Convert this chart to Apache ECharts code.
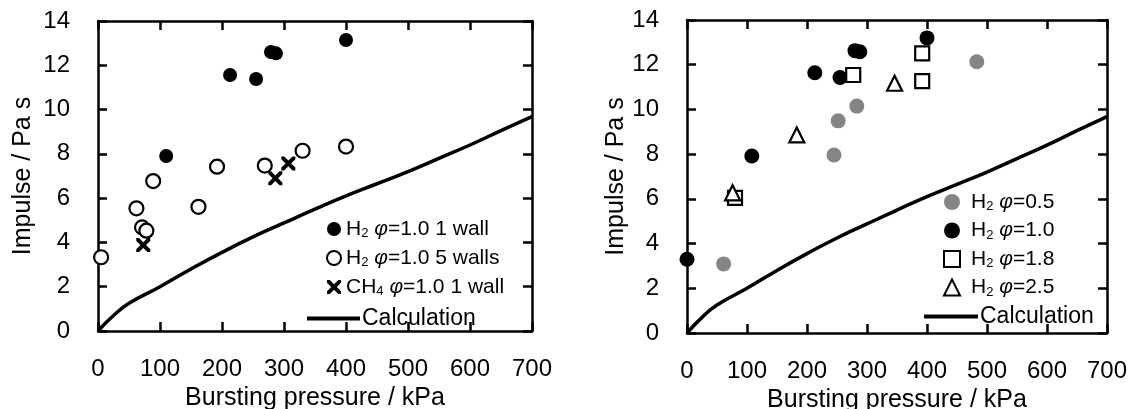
<!DOCTYPE html>
<html>
<head>
<meta charset="utf-8">
<script src="https://cdn.jsdelivr.net/npm/echarts@6/dist/echarts.min.js"></script>
<style>
  html, body { margin: 0; padding: 0; background: #fff; }
  #main { width: 1135px; height: 409px; }
  #err { position: absolute; left: 400px; top: 0; font: 11px monospace; color: red; }
</style>
</head>
<body>
<div id="main"></div>
<div id="err"></div>
<script>
window.onerror = function (m) { document.getElementById('err').textContent += ' ' + m; };

// left panel: hydrogen 1 wall / 5 walls, methane 1 wall
var h2OneWallX = [110, 213, 255, 279, 287, 400];
var h2OneWallY = [7.9, 11.56, 11.38, 12.6, 12.54, 13.14];
var h2FiveWallsX = [5, 62, 71, 78, 89, 162, 192, 269, 330, 400];
var h2FiveWallsY = [3.33, 5.54, 4.68, 4.53, 6.77, 5.61, 7.42, 7.47, 8.14, 8.33];
var ch4OneWallX = [73, 286, 307];
var ch4OneWallY = [3.88, 6.9, 7.57];

// right panel: hydrogen at several equivalence ratios
var phi05X = [61, 245, 252, 283, 483];
var phi05Y = [3.09, 7.96, 9.49, 10.15, 12.13];
var phi10X = [0, 108, 213, 255, 280, 288, 400];
var phi10Y = [3.3, 7.92, 11.64, 11.43, 12.63, 12.58, 13.2];
var phi18X = [80, 277, 392, 392];
var phi18Y = [6.04, 11.54, 12.51, 11.27];
var phi25X = [76, 183, 346];
var phi25Y = [6.27, 8.86, 11.17];

// calculated curve
var calcX = [0, 25, 50, 100, 150, 200, 250, 300, 350, 400, 450, 500, 550, 600, 650, 700];
var calcY = [0, 0.7, 1.25, 2.0, 2.8, 3.55, 4.25, 4.88, 5.5, 6.1, 6.65, 7.2, 7.8, 8.4, 9.05, 9.68];

var xMin = 0, xMax = 700, xStep = 100;
var yMin = 0, yMax = 14, yStep = 2;

function pairs(xs, ys) {
  var out = [];
  for (var i = 0; i < xs.length; i++) out.push([xs[i], ys[i]]);
  return out;
}

var FONT = '"Liberation Sans", Arial, sans-serif';
var crossPath = 'path://M0,0 L2,0 L5,3 L8,0 L10,0 L10,2 L7,5 L10,8 L10,10 L8,10 L5,7 L2,10 L0,10 L0,8 L3,5 L0,2 Z';

function richName(name) {
  return name.replace('CH4', 'CH{s|4}').replace('H2', 'H{s|2}').replace('φ', '{i|φ}');
}

function legendRich() {
  return {
    s: { fontSize: 13, fontFamily: FONT, color: '#000', verticalAlign: 'bottom', lineHeight: 14, padding: [6, 0, 0, 0] },
    i: { fontSize: 21, fontFamily: FONT, color: '#000', fontStyle: 'italic' }
  };
}

function lineOpt() { return { show: true, onZero: false, lineStyle: { color: '#000', width: 2.5 } }; }
function tickOpt() { return { show: true, inside: true, length: 9, lineStyle: { color: '#000', width: 2.5 } }; }

function xAxes(grid) {
  return [
    {
      gridIndex: grid, type: 'value', min: xMin, max: xMax, interval: xStep, position: 'bottom',
      splitLine: { show: false }, axisLine: lineOpt(), axisTick: tickOpt(),
      name: 'Bursting pressure / kPa', nameLocation: 'middle', nameGap: 48,
      nameTextStyle: { fontSize: 25, fontFamily: FONT, color: '#000' },
      axisLabel: { fontSize: 24, fontFamily: FONT, color: '#000', margin: 26 }
    },
    {
      gridIndex: grid, type: 'value', min: xMin, max: xMax, interval: xStep, position: 'top',
      splitLine: { show: false }, axisLine: lineOpt(), axisTick: tickOpt(),
      axisLabel: { show: false }
    }
  ];
}

function yAxes(grid, gap) {
  return [
    {
      gridIndex: grid, type: 'value', min: yMin, max: yMax, interval: yStep, position: 'left',
      splitLine: { show: false }, axisLine: lineOpt(), axisTick: tickOpt(),
      name: 'Impulse / Pa s', nameLocation: 'middle', nameGap: gap,
      nameTextStyle: { fontSize: 25, fontFamily: FONT, color: '#000' },
      axisLabel: { fontSize: 24, fontFamily: FONT, color: '#000', margin: 28 }
    },
    {
      gridIndex: grid, type: 'value', min: yMin, max: yMax, interval: yStep, position: 'right',
      splitLine: { show: false }, axisLine: lineOpt(), axisTick: tickOpt(),
      axisLabel: { show: false }
    }
  ];
}

function calcSeries(xi, yi) {
  return {
    name: 'Calculation', type: 'line', xAxisIndex: xi, yAxisIndex: yi,
    data: pairs(calcX, calcY), smooth: true, showSymbol: false, symbol: 'none',
    lineStyle: { color: '#000', width: 3.5 }, itemStyle: { color: '#000' }
  };
}

var myChart = echarts.init(document.getElementById('main'));

var option = {
  animation: false,
  grid: [
    { left: 98, top: 21, width: 434, height: 310, outerBoundsMode: 'none' },
    { left: 687, top: 20, width: 420, height: 313, outerBoundsMode: 'none' }
  ],
  xAxis: xAxes(0).concat(xAxes(1)),
  yAxis: yAxes(0, 62).concat(yAxes(1, 58)),
  legend: [
    {
      data: ['H2 φ=1.0 1 wall', 'H2 φ=1.0 5 walls', 'CH4 φ=1.0 1 wall'],
      orient: 'vertical', left: 321, top: 213, itemWidth: 14, itemHeight: 14, itemGap: 7,
      formatter: richName,
      textStyle: { fontSize: 21, fontFamily: FONT, color: '#000', lineHeight: 22, rich: legendRich() }
    },
    {
      data: [{ name: 'Calculation', icon: 'rect' }],
      orient: 'vertical', left: 302, top: 302, itemWidth: 53, itemHeight: 4,
      textStyle: { fontSize: 23, fontFamily: FONT, color: '#000', padding: [0, 0, 0, -3] }
    },
    {
      data: ['H2 φ=0.5', 'H2 φ=1.0', 'H2 φ=1.8', 'H2 φ=2.5'],
      orient: 'vertical', left: 938, top: 186, itemWidth: 16, itemHeight: 16, itemGap: 6.5,
      formatter: richName,
      textStyle: { fontSize: 21, fontFamily: FONT, color: '#000', lineHeight: 22, padding: [0, 0, 0, 6], rich: legendRich() }
    },
    {
      data: [{ name: 'Calculation', icon: 'rect' }],
      orient: 'vertical', left: 919, top: 300, itemWidth: 54, itemHeight: 4,
      textStyle: { fontSize: 23, fontFamily: FONT, color: '#000', padding: [0, 0, 0, -3] }
    }
  ],
  series: [
    {
      name: 'H2 φ=1.0 1 wall', type: 'scatter', xAxisIndex: 0, yAxisIndex: 0,
      data: pairs(h2OneWallX, h2OneWallY), symbol: 'circle', symbolSize: 14,
      itemStyle: { color: '#000', opacity: 1 }
    },
    {
      name: 'H2 φ=1.0 5 walls', type: 'scatter', xAxisIndex: 0, yAxisIndex: 0,
      data: pairs(h2FiveWallsX, h2FiveWallsY), symbol: 'circle', symbolSize: 14,
      itemStyle: { color: '#fff', borderColor: '#000', borderWidth: 2.2, opacity: 1 }
    },
    {
      name: 'CH4 φ=1.0 1 wall', type: 'scatter', xAxisIndex: 0, yAxisIndex: 0,
      data: pairs(ch4OneWallX, ch4OneWallY), symbol: crossPath, symbolSize: 14,
      itemStyle: { color: '#000', opacity: 1 }
    },
    calcSeries(0, 0),
    {
      name: 'H2 φ=0.5', type: 'scatter', xAxisIndex: 2, yAxisIndex: 2,
      data: pairs(phi05X, phi05Y), symbol: 'circle', symbolSize: 15,
      itemStyle: { color: '#858585', opacity: 1 }
    },
    {
      name: 'H2 φ=1.0', type: 'scatter', xAxisIndex: 2, yAxisIndex: 2,
      data: pairs(phi10X, phi10Y), symbol: 'circle', symbolSize: 15,
      itemStyle: { color: '#000', opacity: 1 }
    },
    {
      name: 'H2 φ=1.8', type: 'scatter', xAxisIndex: 2, yAxisIndex: 2,
      data: pairs(phi18X, phi18Y), symbol: 'rect', symbolSize: 14,
      itemStyle: { color: '#fff', borderColor: '#000', borderWidth: 2.2, opacity: 1 }
    },
    {
      name: 'H2 φ=2.5', type: 'scatter', xAxisIndex: 2, yAxisIndex: 2,
      data: pairs(phi25X, phi25Y), symbol: 'triangle', symbolSize: 15,
      itemStyle: { color: '#fff', borderColor: '#000', borderWidth: 2.2, opacity: 1 }
    },
    calcSeries(2, 2)
  ]
};

try {
  myChart.setOption(option);
} catch (e) {
  document.getElementById('err').textContent += ' ' + e.message;
}
</script>
</body>
</html>
